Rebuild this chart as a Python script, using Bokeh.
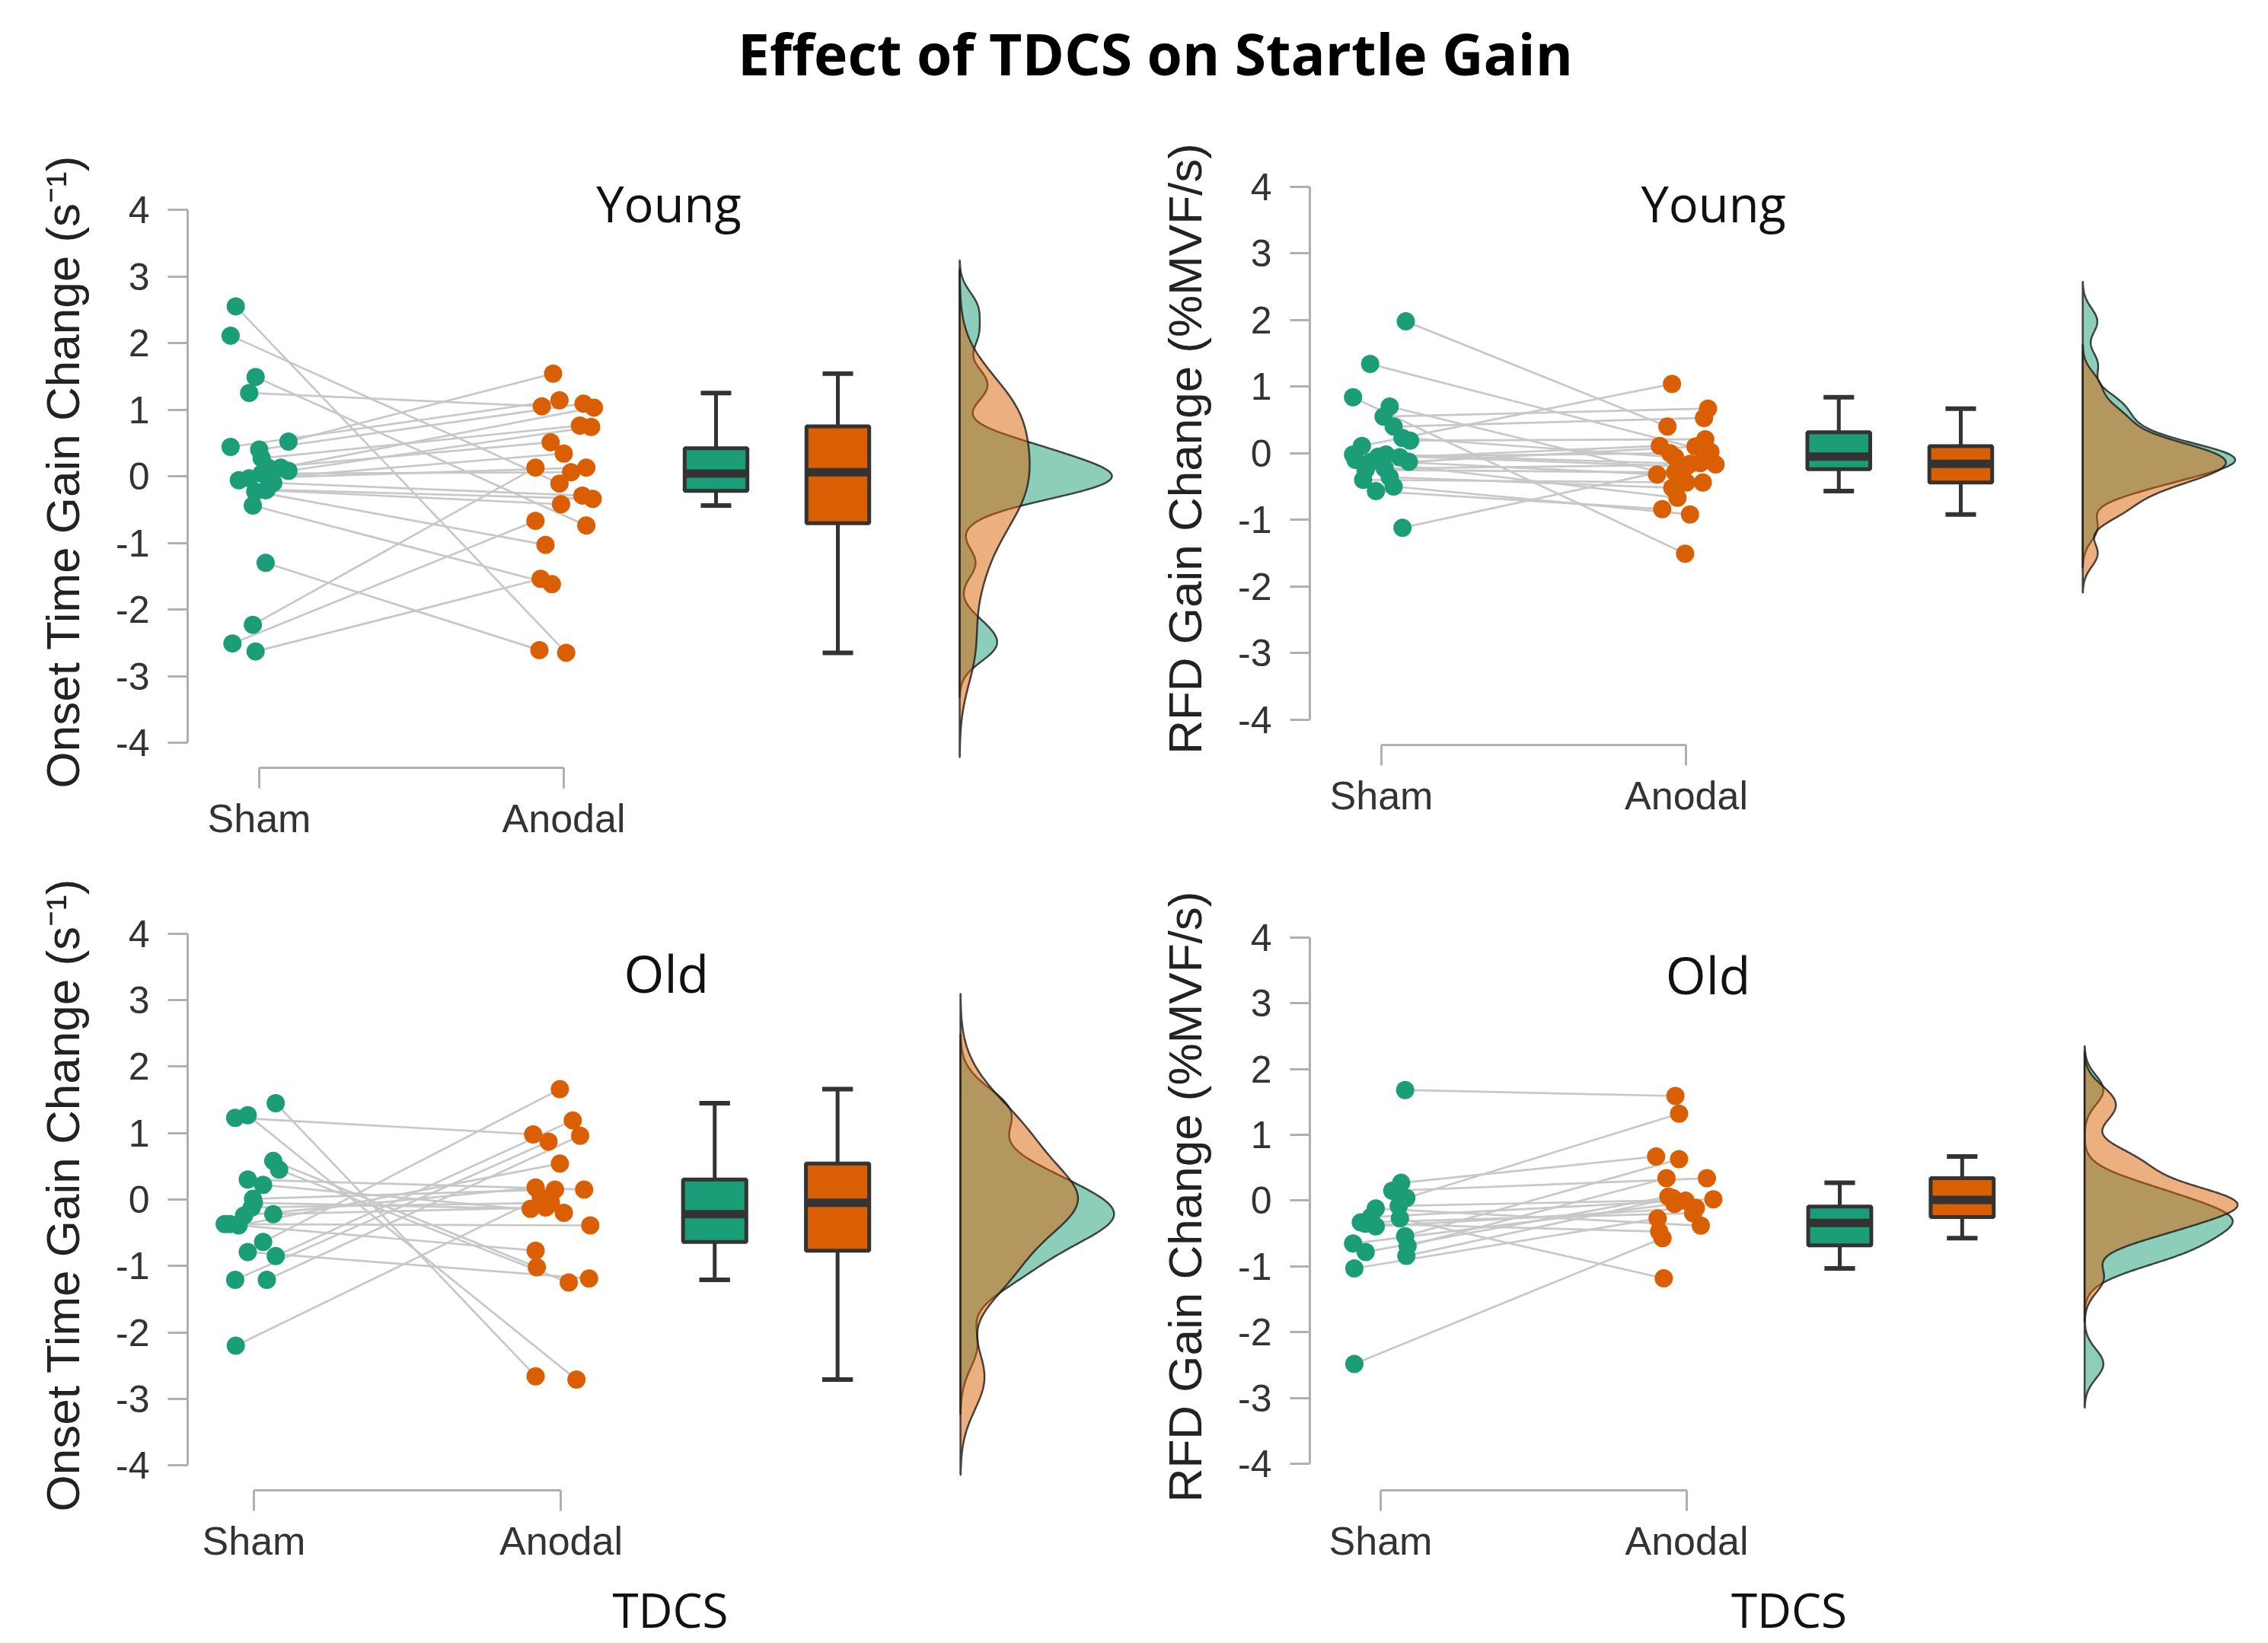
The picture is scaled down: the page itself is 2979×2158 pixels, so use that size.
import numpy as np
from bokeh.plotting import figure
from bokeh.layouts import column, row
from bokeh.models import FixedTicker, Range1d
from bokeh.core.properties import value
from bokeh.embed import file_html
from bokeh.resources import INLINE

# ---------------- data ----------------
categories = ["Sham", "Anodal"]
y_ticks = [-4, -3, -2, -1, 0, 1, 2, 3, 4]
title_text = "Effect of TDCS on Startle Gain"
x_title = "TDCS"
ylabel_onset = "Onset Time Gain Change (s\u207b\u00b9)"
ylabel_rfd = "RFD Gain Change (%MVF/s)"

# Young - onset time gain change (paired: sham[i] <-> anodal[i])
young_onset_sham = [2.55, 2.11, 1.49, 1.25, 0.44, 0.52, 0.40, 0.27, 0.13, 0.08, 0.13, -0.06,
                    -0.03, 0.04, -0.10, -0.20, -0.23, -0.44, -0.21, -1.30, -2.23, -2.51, -2.63]
young_onset_anodal = [-2.65, -0.11, -0.74, 1.05, 1.14, 1.54, 1.09, 0.76, 1.03, 0.74, 0.51, 0.34,
                      0.13, 0.06, -0.29, -0.34, -1.03, -1.62, -0.42, -2.61, 0.13, -0.67, -1.54]
young_onset_sham_jitter = [-0.077, -0.094, -0.012, -0.033, -0.094, 0.096, 0.0, 0.008, 0.071, 0.096,
                           0.029, -0.067, -0.033, 0.008, 0.046, 0.025, -0.013, -0.021, 0.021, 0.021,
                           -0.021, -0.088, -0.012]
young_onset_anodal_jitter = [0.008, -0.014, 0.074, -0.072, -0.014, -0.035, 0.065, 0.053, 0.099, 0.09,
                             -0.043, 0.0, 0.074, 0.024, 0.061, 0.095, -0.06, -0.039, -0.009, -0.08,
                             -0.093, -0.093, -0.076]

# Young - RFD gain change
young_rfd_sham = [1.98, 1.34, 0.84, 0.70, 0.55, 0.40, 0.23, 0.19, 0.11, -0.02, -0.10, -0.13,
                  -0.13, -0.25, -0.23, -0.36, -0.57, -0.50, -1.12, -0.05, -0.02, -0.40, -0.06]
young_rfd_anodal = [0.40, 0.02, -1.51, -0.44, 0.67, 0.53, -0.06, 0.21, 1.04, -0.16, -0.32, 0.10,
                    -0.67, -0.29, -0.17, -0.52, -0.84, -0.92, -0.15, 0.00, -0.20, -0.44, 0.11]
young_rfd_sham_jitter = [0.08, -0.037, -0.093, 0.027, 0.007, 0.04, 0.069, 0.094, -0.064, 0.015,
                         -0.085, 0.09, -0.035, -0.052, 0.011, 0.027, -0.018, 0.04, 0.069, -0.01,
                         -0.093, -0.06, 0.06]
young_rfd_anodal_jitter = [-0.062, 0.079, -0.004, 0.054, 0.071, 0.058, -0.037, 0.062, -0.047, 0.012,
                           -0.096, 0.03, -0.029, -0.037, 0.096, -0.046, -0.079, 0.012, 0.046, -0.053,
                           0.0, 0.0, -0.087]

# Old - onset time gain change
old_onset_sham = [1.45, 1.23, 1.27, 0.58, 0.45, 0.30, 0.22, 0.01, -0.12, -0.22, -0.24, -0.37,
                  -0.39, -0.64, -0.79, -0.85, -1.21, -1.21, -2.20, -0.05, -0.37]
old_onset_anodal = [-2.66, 0.98, -2.71, -1.02, -1.25, 0.15, -0.20, 0.15, -0.05, -0.12, 0.18, -0.39,
                    0.54, 1.66, -1.19, 1.19, 0.87, 0.96, 0.03, -0.14, -0.77]
old_onset_sham_jitter = [0.071, -0.061, -0.02, 0.063, 0.082, -0.02, 0.03, -0.003, -0.007, 0.063,
                         -0.032, -0.078, -0.05, 0.03, -0.02, 0.071, -0.061, 0.042, -0.059, 0.0, -0.095]
old_onset_anodal_jitter = [-0.083, -0.091, 0.05, -0.079, 0.025, 0.075, 0.009, -0.02, -0.033, -0.05,
                           -0.083, 0.095, -0.004, -0.004, 0.091, 0.038, -0.041, 0.062, -0.066,
                           -0.099, -0.083]

# Old - RFD gain change
old_rfd_sham = [1.68, -2.48, 0.04, -0.27, 0.27, 0.15, -0.08, -0.12, -0.25, -0.33, -0.39, -0.54,
                -0.69, -0.84, -0.65, -0.78, -1.03, -0.35]
old_rfd_anodal = [1.59, -0.57, 1.32, -1.18, 0.67, 0.34, 0.02, -0.38, 0.00, -0.19, -0.11, 0.63,
                  0.34, 0.04, -0.05, 0.06, -0.27, -0.47]
old_rfd_sham_jitter = [0.08, -0.086, 0.084, 0.063, 0.067, 0.038, 0.059, -0.016, -0.032, -0.065,
                       -0.016, 0.08, 0.088, 0.084, -0.09, -0.049, -0.086, -0.05]
old_rfd_anodal_jitter = [-0.037, -0.079, -0.025, -0.075, -0.1, 0.066, 0.087, 0.046, -0.004, 0.021,
                         0.03, -0.025, -0.066, -0.046, -0.04, -0.06, -0.095, -0.09]

# ---------------- style ----------------
GREEN = "#1b9e77"
ORANGE = "#d95f02"
BOXLINE = "#333333"
AXIS_GREY = "#b0b0b0"
BOX_POS = (2.5, 2.9)
BOX_W = 0.206
CAP_W = 0.1
DENS_BASE = 3.3
DENS_MAX_W = 0.5


def nrd0(x):
    sd = np.std(x, ddof=1)
    q1, q3 = np.percentile(x, [25, 75])
    lo = min(sd, (q3 - q1) / 1.34)
    return 0.9 * lo * len(x) ** (-0.2)


def kde(x, bw):
    grid = np.linspace(x.min() - 3 * bw, x.max() + 3 * bw, 512)
    d = np.exp(-0.5 * ((grid[:, None] - x[None, :]) / bw) ** 2).sum(axis=1)
    d /= len(x) * bw * np.sqrt(2 * np.pi)
    return grid, d


def make_panel(sham, anodal, sj, aj, ylabel, group, gx, gy, gsize, width, height,
               b_left, b_top, b_bottom, xr, yr, xlabel=None):
    p = figure(width=width, height=height, x_range=Range1d(*xr), y_range=Range1d(*yr),
               output_backend="svg", toolbar_location=None,
               min_border_left=b_left, min_border_right=0,
               min_border_top=b_top, min_border_bottom=b_bottom)
    p.grid.visible = False
    p.outline_line_color = None

    # axes
    for ax in (p.xaxis[0], p.yaxis[0]):
        ax.axis_line_color = AXIS_GREY
        ax.axis_line_width = 3
        ax.major_tick_line_color = AXIS_GREY
        ax.major_tick_line_width = 3
        ax.minor_tick_line_color = None
        ax.major_tick_in = 0
        ax.major_label_text_font = "Liberation Sans"
        ax.major_label_text_color = "#333333"
        ax.axis_label_text_font_style = "normal"
    xa = p.xaxis[0]
    xa.bounds = (1, 2)
    xa.ticker = FixedTicker(ticks=[1, 2], minor_ticks=[])
    xa.major_label_overrides = {1: categories[0], 2: categories[1]}
    xa.major_tick_out = 27
    xa.major_label_standoff = 10
    xa.major_label_text_font_size = "52px"
    if xlabel:
        xa.axis_label = xlabel
        xa.axis_label_text_font = "Open Sans"
        xa.axis_label_text_font_size = "62px"
        xa.axis_label_text_color = "#111111"
        xa.axis_label_standoff = 16
    ya = p.yaxis[0]
    ya.bounds = (-4, 4)
    ya.ticker = FixedTicker(ticks=y_ticks, minor_ticks=[])
    ya.major_label_overrides = {t: str(t) for t in y_ticks}
    ya.major_tick_out = 26
    ya.major_label_standoff = 24
    ya.major_label_text_font_size = "50px"
    ya.axis_label = ylabel
    ya.axis_label_text_font = "Liberation Sans"
    ya.axis_label_text_font_size = "62px"
    ya.axis_label_text_color = "#222222"
    ya.axis_label_standoff = 32

    s = np.array(sham, dtype=float)
    a = np.array(anodal, dtype=float)
    xs = 1 + np.array(sj, dtype=float)
    xa_ = 2 + np.array(aj, dtype=float)

    # paired lines and points
    p.segment(xs, s, xa_, a, line_color="#c8c8c8", line_width=2.7)
    p.scatter(xs, s, size=24, fill_color=GREEN, line_color=None)
    p.scatter(xa_, a, size=24, fill_color=ORANGE, line_color=None)

    # box plots
    for vals, pos, col in ((s, BOX_POS[0], GREEN), (a, BOX_POS[1], ORANGE)):
        q1, med, q3 = np.percentile(vals, [25, 50, 75])
        iqr = q3 - q1
        lo = vals[vals >= q1 - 1.5 * iqr].min()
        hi = vals[vals <= q3 + 1.5 * iqr].max()
        p.segment([pos, pos], [lo, q3], [pos, pos], [q1, hi], line_color=BOXLINE, line_width=5)
        p.segment([pos - CAP_W / 2] * 2, [lo, hi], [pos + CAP_W / 2] * 2, [lo, hi],
                  line_color=BOXLINE, line_width=6)
        p.quad(left=pos - BOX_W / 2, right=pos + BOX_W / 2, bottom=q1, top=q3,
               fill_color=col, line_color=BOXLINE, line_width=5)
        p.segment(pos - BOX_W / 2, med, pos + BOX_W / 2, med, line_color=BOXLINE, line_width=11)

    # half densities
    gs, ds = kde(s, nrd0(s))
    ga, da = kde(a, nrd0(a))
    sc = DENS_MAX_W / max(ds.max(), da.max())
    for g, d, col in ((gs, ds, GREEN), (ga, da, ORANGE)):
        px = np.concatenate([DENS_BASE + d * sc, [DENS_BASE, DENS_BASE]])
        py = np.concatenate([g, [g[-1], g[0]]])
        p.patch(px, py, fill_color=col, fill_alpha=0.5, line_color="#1a1a1a",
                line_alpha=0.8, line_width=2.5)

    # group label
    p.text(x=[gx], y=[gy], text=[group], text_font=value("Open Sans"),
           text_font_size=value(gsize), text_align="center",
           text_baseline="alphabetic", text_color="#111111")
    return p


# ---------------- layout ----------------
title_fig = figure(width=2979, height=158, x_range=Range1d(0, 2979), y_range=Range1d(0, 158),
                   x_axis_type=None, y_axis_type=None, output_backend="svg",
                   toolbar_location=None, min_border=0)
title_fig.grid.visible = False
title_fig.outline_line_color = None
title_fig.text(x=[1517], y=[89], text=[title_text], text_font=value("Open Sans"),
               text_font_size=value("75px"), text_font_style=value("bold"),
               text_align="center", text_baseline="alphabetic", text_color="#000000")

p_tl = make_panel(young_onset_sham, young_onset_anodal, young_onset_sham_jitter,
                  young_onset_anodal_jitter, ylabel_onset, "Young", 2.345, 4.095, "65px",
                  1514, 952, 246, 72, 102, (0.765, 3.935), (-4.377, 4.5143))
p_tr = make_panel(young_rfd_sham, young_rfd_anodal, young_rfd_sham_jitter,
                  young_rfd_anodal_jitter, ylabel_rfd, "Young", 2.089, 3.752, "65px",
                  1465, 952, 206, 42, 132, (0.7653, 3.9089), (-4.383, 4.5146))
p_bl = make_panel(old_onset_sham, old_onset_anodal, old_onset_sham_jitter,
                  old_onset_anodal_jitter, ylabel_onset, "Old", 2.343, 3.41, "68px",
                  1514, 1048, 246, 71, 199, (0.7844, 3.9269), (-4.377, 4.5143), xlabel=x_title)
p_br = make_panel(old_rfd_sham, old_rfd_anodal, old_rfd_sham_jitter,
                  old_rfd_anodal_jitter, ylabel_rfd, "Old", 2.070, 3.445, "68px",
                  1465, 1048, 206, 76, 194, (0.7687, 3.9005), (-4.401, 4.5158), xlabel=x_title)

left_col = column(p_tl, p_bl)
right_col = column(p_tr, p_br)
layout = column(title_fig, row(left_col, right_col))

open("out.html", "w").write(file_html(layout, INLINE))
